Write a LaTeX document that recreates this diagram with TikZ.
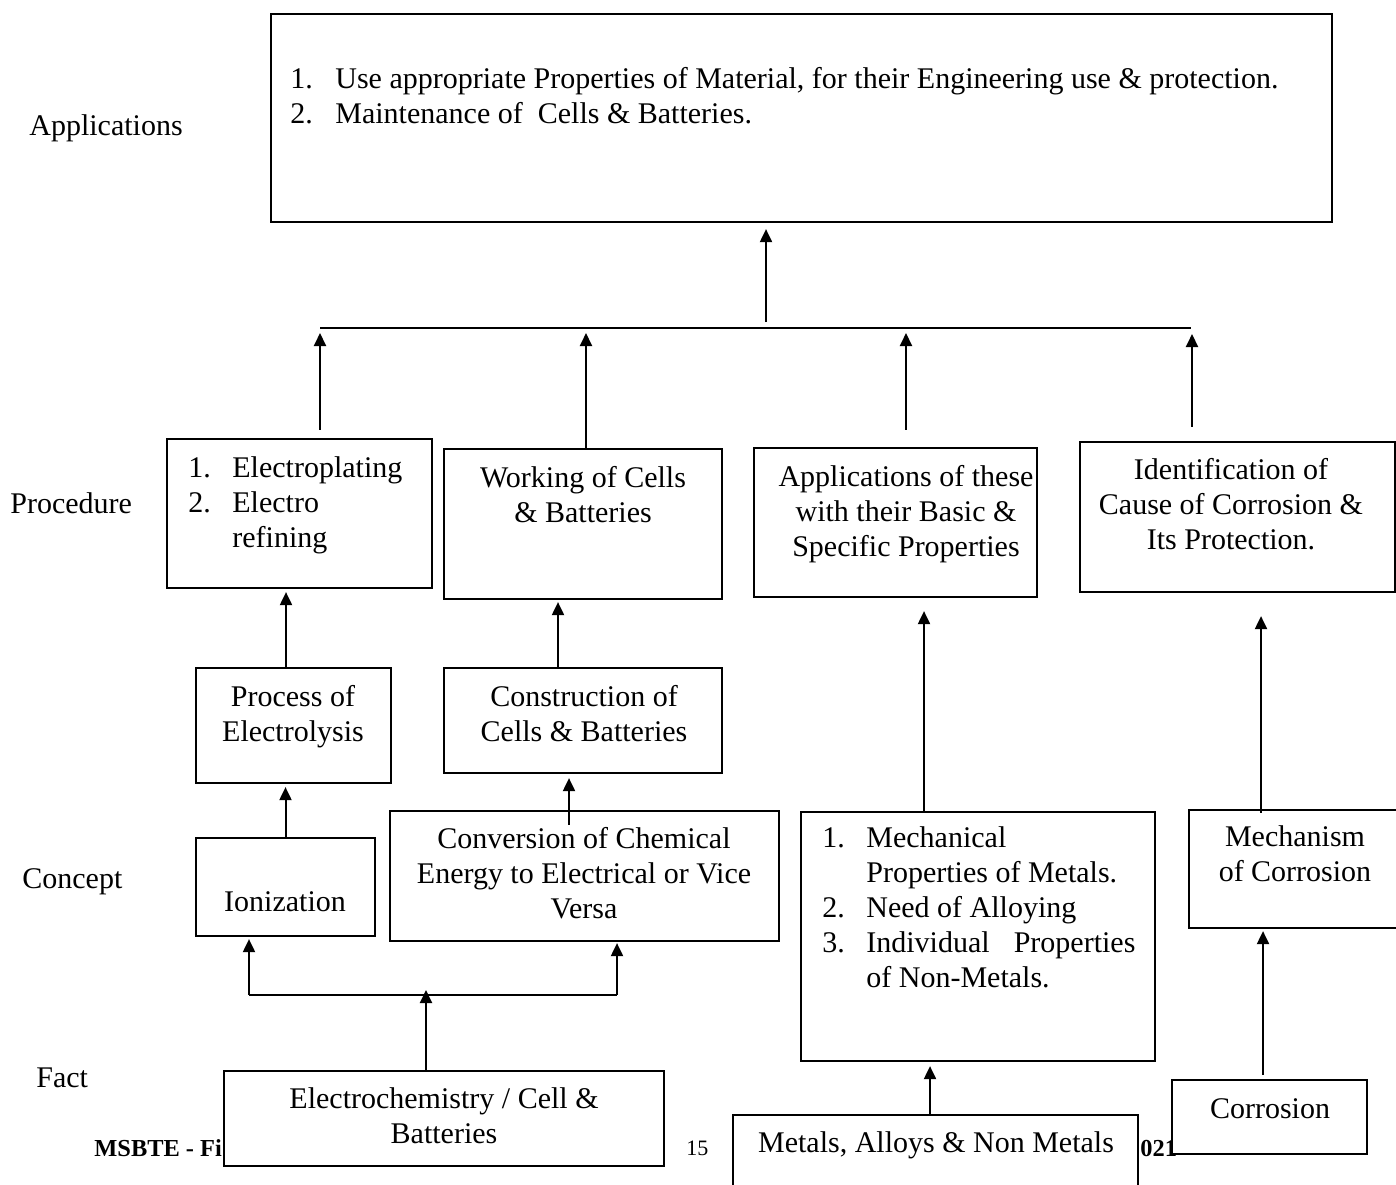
\documentclass[tikz,border=0pt]{standalone}
\usepackage{fontspec}
\setmainfont{Liberation Serif}
\usetikzlibrary{arrows.meta,calc,fit}

\begin{document}
\begin{tikzpicture}[x=0.5pt,y=-0.5pt,
  box/.style={draw,line width=1.1pt,fill=white,inner sep=0pt},
  arr/.style={line width=1pt,-{Triangle[length=6.5pt,width=6pt]}},
  txt/.style={anchor=base,align=center,inner sep=0pt,font=\fontsize{15}{17.5}\selectfont},
  lst/.style={anchor=base west,align=left,inner sep=0pt,font=\fontsize{15}{17.5}\selectfont},
  foot/.style={anchor=base west,inner sep=0pt,font=\fontsize{11}{13}\selectfont}]

\useasboundingbox (0,0) rectangle (1396,1184);

% level names (multi-line nodes sit on their last line)
\node[lst] (lapp) at (29,135) {Applications};
\node[lst] (lproc) at (10,513) {Procedure};
\node[lst] (lcon) at (22,888) {Concept};
\node[lst] (lfact) at (36,1087) {Fact};

\node[foot,font=\fontsize{12.2}{14}\selectfont\bfseries] (foota) at (94,1156) {MSBTE - Fi};
\node[foot] (footb) at (686,1155) {15};
\node[foot,font=\fontsize{12.2}{14}\selectfont\bfseries] (footc) at (1140,1156) {021};

\node[box,fit={(271,14) (1332,222)}] (app) {};
\node[lst] (appt) at (290,123) {\makebox[22.5pt][l]{1.}Use appropriate Properties of Material, for their Engineering use \& protection.\\
\makebox[22.5pt][l]{2.}Maintenance of\ \ Cells \& Batteries.};

\node[box,fit={(167,439) (432,588)}] (elec) {};
\node[lst] (elect) at (188,547) {\makebox[22pt][l]{1.}Electroplating\\
\makebox[22pt][l]{2.}Electro\\
\hspace*{22pt}refining};
\node[box,fit={(444,449) (722,599)}] (work) {};
\node[txt] (workt) at (583,522) {Working of Cells\\\& Batteries};
\node[box,fit={(754,448) (1037,597)}] (appl) {};
\node[txt] (applt) at (906,556) {Applications of these\\with their Basic \&\\Specific Properties};
\node[box,fit={(1080,442) (1395,592)}] (iden) {};
\node[txt] (ident) at (1231,549) {Identification of\\Cause of Corrosion \&\\Its Protection.};

\node[box,fit={(196,668) (391,783)}] (proc) {};
\node[txt] (proct) at (293,741) {Process of\\Electrolysis};
\node[box,fit={(444,668) (722,773)}] (cons) {};
\node[txt] (const) at (584,741) {Construction of\\Cells \& Batteries};
\node[box,fit={(196,838) (375,936)}] (ion) {};
\node[txt] (iont) at (285,911) {Ionization};
\node[box,fit={(390,811) (779,941)}] (conv) {};
\node[txt] (convt) at (584,918) {Conversion of Chemical\\Energy to Electrical or Vice\\Versa};
\node[box,fit={(801,812) (1155,1061)}] (mech) {};
\node[lst] (mecht) at (822,987) {\makebox[22pt][l]{1.}Mechanical\\
\hspace*{22pt}Properties of Metals.\\
\makebox[22pt][l]{2.}Need of Alloying\\
\makebox[22pt][l]{3.}\makebox[134.5pt][s]{Individual\hfill Properties}\\
\hspace*{22pt}of Non-Metals.};
\node[box,fit={(1189,810) (1410,928)}] (mechc) {};
\node[txt] (mechct) at (1295,881) {Mechanism\\of Corrosion};

\node[box,fit={(224,1071) (664,1166)}] (echem) {};
\node[txt] (echemt) at (444,1143) {Electrochemistry / Cell \&\\Batteries};
\node[box,fit={(733,1115) (1138,1200)}] (metal) {};
\node[txt] (metalt) at (936,1152) {Metals, Alloys \& Non Metals};
\node[box,fit={(1172,1080) (1367,1154)}] (corr) {};
\node[txt] (corrt) at (1270,1118) {Corrosion};

\coordinate (bus) at (766,328);
\coordinate (busL) at (320,328);
\coordinate (busR) at (1191,328);
\coordinate (busbL) at (249,995);
\coordinate (busbR) at (617,995);

\draw[line width=1pt] (busL) -- (busR);
\draw[arr] ($(bus)+(0,-6)$) -- ($(bus |- app.south)+(0,6)$);
\draw[arr] ($(elec.north)+(20.5,-8)$) -- ($(busL)+(0,5)$);
\draw[arr] ($(work.north)+(3,0)$) -- ($(work.north |- busL)+(3,5)$);
\draw[arr] ($(appl.north)+(10.5,-17)$) -- ($(appl.north |- busL)+(10.5,5)$);
\draw[arr] ($(iden.north)+(-45.5,-14)$) -- ($(iden.north |- busL)+(-45.5,6)$);

\draw[arr] ($(proc.north)+(-7.5,0)$) -- ($(proc.north |- elec.south)+(-7.5,3)$);
\draw[arr] ($(cons.north)+(-25,0)$) -- ($(cons.north |- work.south)+(-25,2)$);
\draw[arr] ($(mech.north)+(-54,0)$) -- ($(mech.north |- appl.south)+(-54,13)$);
\draw[arr] ($(mechc.north)+(-38.5,4)$) -- ($(mechc.north |- iden.south)+(-38.5,23)$);
\draw[arr] (ion.north) -- ($(ion.north |- proc.south)+(0,3)$);
\draw[arr] ($(conv.north)+(-15.5,15)$) -- ($(conv.north |- cons.south)+(-15.5,4)$);

\draw[line width=1pt] (busbL) -- (busbR);
\draw[arr] (busbL) -- ($(busbL |- ion.south)+(0,2)$);
\draw[arr] (busbR) -- ($(busbR |- conv.south)+(0,1)$);
\draw[arr] ($(echem.north)+(-18,0)$) -- ($(echem.north |- busbL)+(-18,-5)$);
\draw[arr] ($(metal.north)+(-5.5,0)$) -- ($(metal.north |- mech.south)+(-5.5,4)$);
\draw[arr] ($(corr.north)+(-6.5,-4)$) -- ($(corr.north |- mechc.south)+(-6.5,2)$);
\end{tikzpicture}
\end{document}
